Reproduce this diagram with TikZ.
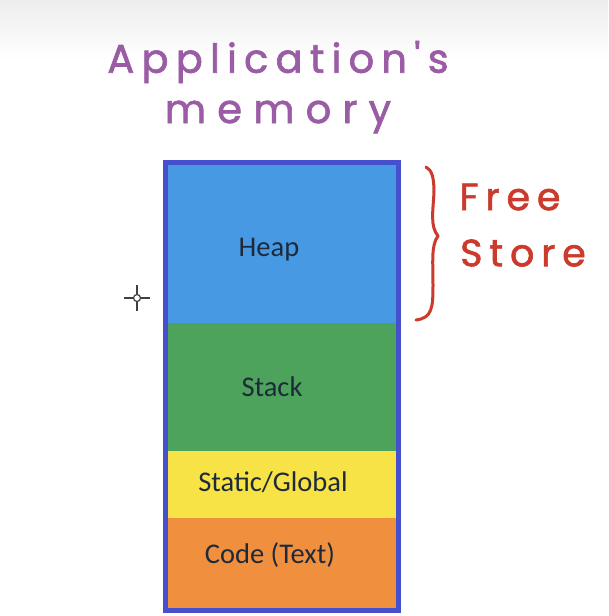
\documentclass[tikz,border=0pt]{standalone}
\usepackage{fontspec}
\setmainfont{Carlito}
\newfontfamily\hand[LetterSpace=18,FakeBold=1.6]{Poppins}
\newfontfamily\handw[LetterSpace=28,FakeBold=1.6]{Poppins}
\definecolor{heapc}{HTML}{4699E2}
\definecolor{stackc}{HTML}{4DA35B}
\definecolor{staticc}{HTML}{F8E347}
\definecolor{codec}{HTML}{F0903F}
\definecolor{borderc}{HTML}{4650CF}
\definecolor{purp}{HTML}{9A5CA4}
\definecolor{redh}{HTML}{CC3A2C}
\definecolor{txt}{HTML}{1E2A3A}
\begin{document}
\begin{tikzpicture}[x=1pt,y=-1pt,
  seg/.style={draw=none,rectangle,inner sep=0pt,minimum width=230pt,anchor=north west},
  lbl/.style={font=\fontsize{28.5}{31}\selectfont,text=txt},
  handp/.style={font=\hand\fontsize{40}{44}\selectfont,text=purp},
  handpw/.style={font=\handw\fontsize{40}{44}\selectfont,text=purp},
  handr/.style={font=\hand\fontsize{38}{42}\selectfont,text=redh}]
\useasboundingbox (0,0) rectangle (608,616);
\fill[white] (0,0) rectangle (608,616);
\shade[top color=black!7,bottom color=white] (0,0) rectangle (608,60);
% segments
\node[seg,fill=heapc,minimum height=160pt] (heap) at (166,163) {};
\node[seg,fill=stackc,minimum height=128pt] (stack) at (166,323) {};
\node[seg,fill=staticc,minimum height=67pt] (static) at (166,451) {};
\node[seg,fill=codec,minimum height=92pt] (code) at (166,518) {};
\draw[borderc,line width=5pt] (165,162) rectangle (398,610);
\node[lbl] (heapt) at (269,250) {Heap};
\node[lbl] (stackt) at (272,387) {Stack};
\node[lbl] (statict) at (273,482) {Static/Global};
\node[lbl] (codet) at (270,555) {Code (Text)};
% handwritten title
\node[handp] (t1) at (278,62) {Application's};
\node[handpw] (t2) at (278,117) {memory};
% free store
\node[handr] (f1) at (510,197) {Free};
\node[handr] (f2) at (523,253) {Store};
\coordinate (bt) at (426,167);
\coordinate (bm) at (438,236);
\coordinate (bb) at (416,320);
\draw[redh,line width=3pt,line cap=round,line join=round]
  (bt) .. controls (432,170) and (434,178) .. (434,192)
  .. controls (433,212) and (430,226) .. (bm)
  .. controls (431,245) and (433,262) .. (433,285)
  .. controls (433,308) and (432,318) .. (bb);
% cursor
\coordinate (cur) at (137,298);
\draw[black!75,line width=1.2pt] (cur) circle (3.5);
\draw[black!75,line width=1.2pt] (124,298) -- (133.5,298) (140.5,298) -- (150,298)
  (137,285) -- (137,294.5) (137,301.5) -- (137,311);
\end{tikzpicture}
\end{document}
